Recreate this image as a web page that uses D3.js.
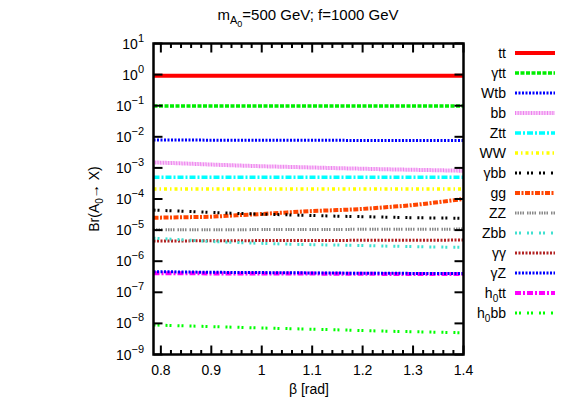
<!DOCTYPE html>
<html>
<head>
<meta charset="utf-8">
<script src="https://cdn.jsdelivr.net/npm/d3@7"></script>
<style>
  body { margin: 0; background: #fff; }
  text { font-family: "Liberation Sans", Arial, sans-serif; }
</style>
</head>
<body>
<div id="chart"></div>
<script>
// beta values [rad] at which the branching ratios were read
var beta = [0.7854, 0.85, 0.9, 0.95, 1.0, 1.05, 1.1, 1.15, 1.2, 1.25, 1.3, 1.35, 1.4];

var brTT   = [0.92, 0.92, 0.92, 0.92, 0.92, 0.92, 0.92, 0.92, 0.92, 0.92, 0.92, 0.92, 0.92];
var brGTT  = [0.097, 0.097, 0.097, 0.097, 0.097, 0.097, 0.097, 0.097, 0.097, 0.097, 0.097, 0.097, 0.097];
var brWTB  = [7.9e-3, 7.9e-3, 7.8e-3, 7.8e-3, 7.8e-3, 7.7e-3, 7.7e-3, 7.7e-3, 7.6e-3, 7.6e-3, 7.6e-3, 7.6e-3, 7.6e-3];
var brBB   = [1.5e-3, 1.38e-3, 1.28e-3, 1.2e-3, 1.13e-3, 1.08e-3, 1.03e-3, 0.98e-3, 0.94e-3, 0.9e-3, 0.87e-3, 0.84e-3, 0.81e-3];
var brZTT  = [5.0e-4, 5.0e-4, 5.0e-4, 5.0e-4, 5.0e-4, 5.0e-4, 5.0e-4, 5.0e-4, 5.0e-4, 5.0e-4, 5.0e-4, 5.0e-4, 5.0e-4];
var brWW   = [2.1e-4, 2.1e-4, 2.1e-4, 2.1e-4, 2.1e-4, 2.1e-4, 2.1e-4, 2.1e-4, 2.1e-4, 2.1e-4, 2.1e-4, 2.1e-4, 2.1e-4];
var brGBB  = [4.4e-5, 4.0e-5, 3.7e-5, 3.45e-5, 3.25e-5, 3.1e-5, 2.95e-5, 2.8e-5, 2.7e-5, 2.6e-5, 2.5e-5, 2.45e-5, 2.4e-5];
var brGG   = [2.5e-5, 2.6e-5, 2.7e-5, 3.0e-5, 3.3e-5, 3.7e-5, 4.1e-5, 4.4e-5, 4.8e-5, 5.5e-5, 6.4e-5, 7.9e-5, 1.0e-4];
var brZZ   = [1.02e-5, 1.02e-5, 1.03e-5, 1.03e-5, 1.04e-5, 1.04e-5, 1.05e-5, 1.05e-5, 1.06e-5, 1.06e-5, 1.07e-5, 1.07e-5, 1.08e-5];
var brZBB  = [5.5e-6, 4.8e-6, 4.3e-6, 4.0e-6, 3.75e-6, 3.55e-6, 3.4e-6, 3.3e-6, 3.2e-6, 3.05e-6, 2.95e-6, 2.85e-6, 2.8e-6];
var brGGam = [4.5e-6, 4.5e-6, 4.55e-6, 4.55e-6, 4.6e-6, 4.6e-6, 4.65e-6, 4.65e-6, 4.7e-6, 4.7e-6, 4.75e-6, 4.75e-6, 4.8e-6];
var brGZ   = [4.6e-7, 4.5e-7, 4.4e-7, 4.35e-7, 4.3e-7, 4.25e-7, 4.2e-7, 4.15e-7, 4.1e-7, 4.1e-7, 4.05e-7, 4.0e-7, 4.0e-7];
var brH0TT = [4.1e-7, 4.1e-7, 4.05e-7, 4.05e-7, 4.0e-7, 4.0e-7, 4.0e-7, 3.95e-7, 3.95e-7, 3.9e-7, 3.9e-7, 3.9e-7, 3.9e-7];
var brH0BB = [8.9e-9, 8.3e-9, 7.9e-9, 7.5e-9, 7.1e-9, 6.8e-9, 6.5e-9, 6.2e-9, 5.9e-9, 5.6e-9, 5.4e-9, 5.2e-9, 5.0e-9];

var xTicks = [0.8, 0.9, 1.0, 1.1, 1.2, 1.3, 1.4];
var xTickLabels = ["0.8", "0.9", "1", "1.1", "1.2", "1.3", "1.4"];
var yExponents = [-9, -8, -7, -6, -5, -4, -3, -2, -1, 0, 1];

// legend entries: label pieces [text, isSubscript], colour, dash, width
var series = [
    {name: [["tt"]], values: brTT, color: "#ff0000", dash: null, w: 4},
    {name: [["γtt"]], values: brGTT, color: "#00ee00", dash: "4,1.5", w: 3.5},
    {name: [["Wtb"]], values: brWTB, color: "#0000ff", dash: "2,1.5", w: 3},
    {name: [["bb"]], values: brBB, color: "#ee82ee", dash: "1,0.6", w: 4},
    {name: [["Ztt"]], values: brZTT, color: "#00ffff", dash: "6,2,2,2", w: 3.5},
    {name: [["WW"]], values: brWW, color: "#ffff00", dash: "3,3,1.5,3", w: 3.5},
    {name: [["γbb"]], values: brGBB, color: "#000000", dash: "2,2,2,6", w: 3},
    {name: [["gg"]], values: brGG, color: "#ff4500", dash: "5,1.5,2,1.5", w: 4},
    {name: [["ZZ"]], values: brZZ, color: "#888888", dash: "1.5,1,1.5,1,1.5,1,1.5,3", w: 3},
    {name: [["Zbb"]], values: brZBB, color: "#40e0d0", dash: "2,2,2,6", w: 3},
    {name: [["γγ"]], values: brGGam, color: "#b22222", dash: "2,1.5", w: 3},
    {name: [["γZ"]], values: brGZ, color: "#0000ff", dash: "2,1.5", w: 3},
    {name: [["h"], ["0", true], ["tt"]], values: brH0TT, color: "#ff00ff", dash: "6,2,2,2", w: 4},
    {name: [["h"], ["0", true], ["bb"]], values: brH0BB, color: "#00ff00", dash: "2,2,2,6", w: 3}
];

var width = 574;
var height = 402;
var pLeft = 153.5, pRight = 463.5, pTop = 43.5, pBottom = 354.5;

var svg = d3.select("#chart")
    .append("svg")
    .attr("width", width)
    .attr("height", height);

var x = d3.scaleLinear().domain([Math.PI / 4, 1.4]).range([pLeft, pRight]);
var y = d3.scaleLog().domain([1e-9, 10]).range([pBottom, pTop]);

svg.append("defs").append("clipPath").attr("id", "clip")
    .append("rect")
    .attr("x", pLeft).attr("y", pTop)
    .attr("width", pRight - pLeft).attr("height", pBottom - pTop);

// curves
var line = d3.line()
    .x(function(d, i) { return x(beta[i]); })
    .y(function(d) { return y(d); })
    .curve(d3.curveMonotoneX);

svg.append("g")
    .attr("clip-path", "url(#clip)")
    .selectAll("path")
    .data(series.slice().reverse())
    .enter()
    .append("path")
    .attr("d", function(d) { return line(d.values); })
    .attr("fill", "none")
    .attr("stroke", function(d) { return d.color; })
    .attr("stroke-width", function(d) { return d.w; })
    .attr("stroke-dasharray", function(d) { return d.dash; });

// ticks
var ticks = svg.append("g").attr("stroke", "#000").attr("stroke-width", 2);

var xMinor = d3.range(0.8, 1.401, 0.02);
xMinor.forEach(function(v) {
    var major = xTicks.some(function(t) { return Math.abs(t - v) < 1e-6; });
    var len = major ? 9 : 4.5;
    ticks.append("line").attr("x1", x(v)).attr("x2", x(v)).attr("y1", pBottom).attr("y2", pBottom - len);
    ticks.append("line").attr("x1", x(v)).attr("x2", x(v)).attr("y1", pTop).attr("y2", pTop + len);
});

y.ticks().forEach(function(v) {
    var m = Math.round(v / Math.pow(10, Math.floor(Math.log10(v) + 1e-9)));
    var len = m === 1 ? 9 : 4.5;
    ticks.append("line").attr("x1", pLeft).attr("x2", pLeft + len).attr("y1", y(v)).attr("y2", y(v));
    ticks.append("line").attr("x1", pRight).attr("x2", pRight - len).attr("y1", y(v)).attr("y2", y(v));
});

// frame
svg.append("rect")
    .attr("x", pLeft).attr("y", pTop)
    .attr("width", pRight - pLeft).attr("height", pBottom - pTop)
    .attr("fill", "none")
    .attr("stroke", "#000")
    .attr("stroke-width", 2.5);

// x tick labels
svg.append("g")
    .selectAll("text")
    .data(xTicks)
    .enter()
    .append("text")
    .attr("x", function(d) { return x(d); })
    .attr("y", 375)
    .attr("text-anchor", "middle")
    .attr("font-size", 14)
    .text(function(d, i) { return xTickLabels[i]; });

// y tick labels 10^n
var yl = svg.append("g")
    .selectAll("text")
    .data(yExponents)
    .enter()
    .append("text")
    .attr("x", 144)
    .attr("y", function(d) { return y(Math.pow(10, d)) + 5; })
    .attr("text-anchor", "end")
    .attr("font-size", 14);
yl.append("tspan").text("10");
yl.append("tspan")
    .attr("dy", -7)
    .attr("font-size", 11)
    .text(function(d) { return d < 0 ? "\u2212" + (-d) : String(d); });

// title
var title = svg.append("text")
    .attr("x", 308)
    .attr("y", 20)
    .attr("text-anchor", "middle")
    .attr("font-size", 15);
title.append("tspan").text("m");
title.append("tspan").attr("dy", 4).attr("font-size", 11).text("A");
title.append("tspan").attr("dy", 3).attr("font-size", 9).text("0");
title.append("tspan").attr("dy", -7).text("=500 GeV; f=1000 GeV");

// axis labels
svg.append("text")
    .attr("x", 309)
    .attr("y", 394)
    .attr("text-anchor", "middle")
    .attr("font-size", 14)
    .text("β [rad]");

var ylab = svg.append("text")
    .attr("transform", "translate(99,199) rotate(-90)")
    .attr("text-anchor", "middle")
    .attr("font-size", 14);
ylab.append("tspan").text("Br(A");
ylab.append("tspan").attr("dy", 4).attr("font-size", 10).text("0");
ylab.append("tspan").attr("dy", -4).text("\u2192 X)");

// legend
var legend = svg.append("g")
    .selectAll("g")
    .data(series)
    .enter()
    .append("g")
    .attr("transform", function(d, i) { return "translate(0," + (53 + 20 * i) + ")"; });

legend.append("line")
    .attr("x1", 515).attr("x2", 555)
    .attr("stroke", function(d) { return d.color; })
    .attr("stroke-width", function(d) { return d.w; })
    .attr("stroke-dasharray", function(d) { return d.dash; });

legend.append("text")
    .attr("x", 506)
    .attr("y", 5)
    .attr("text-anchor", "end")
    .attr("font-size", 14)
    .each(function(d) {
        var t = d3.select(this);
        var shifted = false;
        d.name.forEach(function(p) {
            var ts = t.append("tspan").text(p[0]);
            if (p[1]) { ts.attr("dy", 4).attr("font-size", 10); shifted = true; }
            else if (shifted) { ts.attr("dy", -4); shifted = false; }
        });
    });
</script>
</body>
</html>
